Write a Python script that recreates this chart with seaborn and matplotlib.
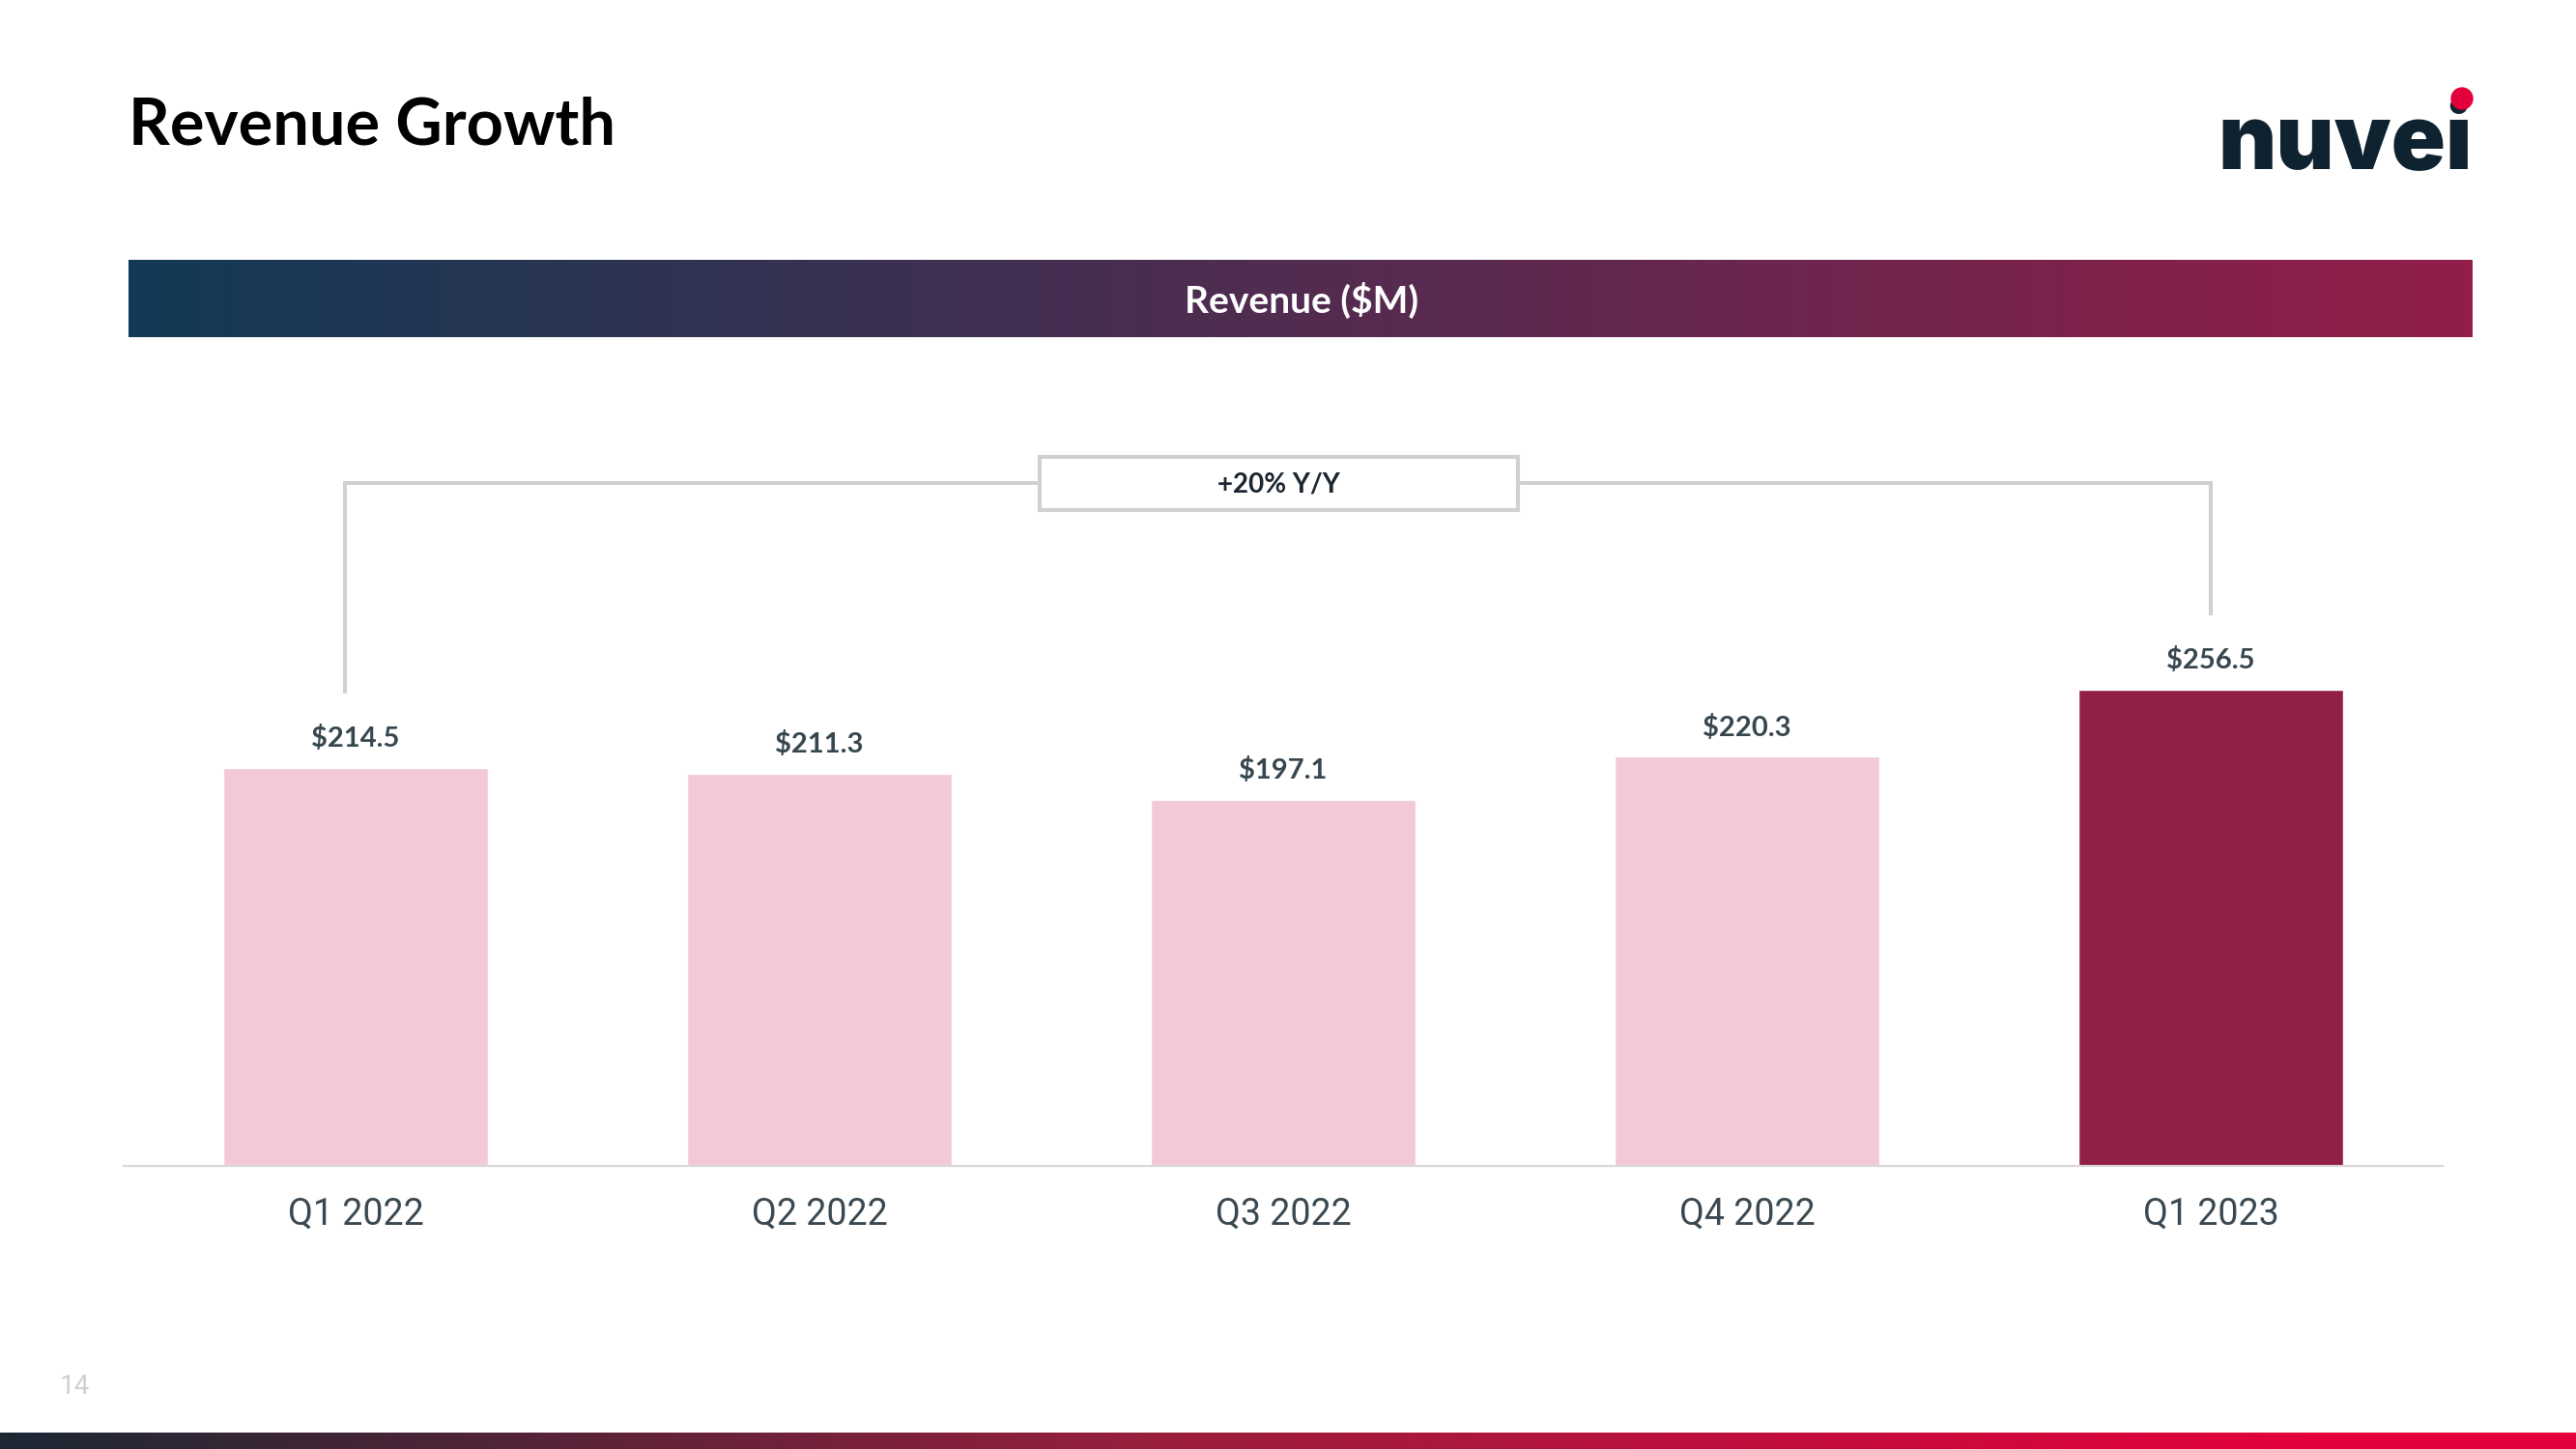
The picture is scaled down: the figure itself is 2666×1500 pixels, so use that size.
import numpy as np
import pandas as pd
import matplotlib
matplotlib.use("Agg")
import matplotlib.pyplot as plt
import seaborn as sns
from matplotlib.colors import LinearSegmentedColormap
from matplotlib.patches import Rectangle, Ellipse

# data
quarters = ["Q1 2022", "Q2 2022", "Q3 2022", "Q4 2022", "Q1 2023"]
revenue = [214.5, 211.3, 197.1, 220.3, 256.5]
bar_colors = ["#f3c9d6", "#f3c9d6", "#f3c9d6", "#f3c9d6", "#921f47"]
growth_label = "+20% Y/Y"

W, H = 2666, 1500
sns.set_theme(style="white")
plt.rcParams["font.family"] = ["Lato", "DejaVu Sans"]

fig = plt.figure(figsize=(W / 100, H / 100), dpi=100)
fig.patch.set_facecolor("white")

# header gradient band
band = fig.add_axes([133 / W, 1 - 349 / H, (2558 - 133) / W, 80 / H])
band_cmap = LinearSegmentedColormap.from_list("band", ["#123a56", "#921e4a"])
band.imshow(np.linspace(0, 1, 512)[None, :], aspect="auto", cmap=band_cmap)
band.axis("off")
fig.text(1347 / W, 1 - 311 / H, "Revenue ($M)", ha="center", va="center",
         fontsize=28, fontweight="bold", color="white")

# bottom strip
strip = fig.add_axes([0, 0, 1, 17 / H])
strip_cmap = LinearSegmentedColormap.from_list(
    "strip", [(0, "#1c2834"), (0.45, "#9a1f3d"), (0.9, "#e4003b"), (1, "#e4003b")])
strip.imshow(np.linspace(0, 1, 512)[None, :], aspect="auto", cmap=strip_cmap)
strip.axis("off")

# title, logo, page number
fig.text(133 / W, 1 - 150 / H, "Revenue Growth", ha="left", va="baseline",
         fontsize=48, fontweight="bold", color="black")
fig.text(2559 / W, 1 - 175 / H, "nuvei", ha="right", va="baseline",
         fontsize=67, fontweight="black", color="#0e2230",
         family=["Inter", "Lato", "DejaVu Sans"])
fig.add_artist(Ellipse((2548 / W, 1 - 102 / H), 22 / W, 22 / H,
                       transform=fig.transFigure, color="#e4003b", zorder=5))
fig.text(62 / W, 1 - 1443 / H, "14", ha="left", va="baseline",
         fontsize=20, color="#d0d0d0", family=["Roboto", "DejaVu Sans"])

# bar chart
df = pd.DataFrame({"quarter": quarters, "revenue": revenue})
ax = fig.add_axes([128 / W, (H - 1207) / H, 2400 / W, 400 * 1.923 / H])
sns.barplot(data=df, x="quarter", y="revenue", hue="quarter", palette=bar_colors,
            width=0.57, saturation=1, legend=False, ax=ax)
ax.set_xlim(-0.5, 4.5)
ax.set_ylim(0, 400)
ax.set_xlabel("")
ax.set_ylabel("")
ax.set_yticks([])
for s in ["top", "right", "left"]:
    ax.spines[s].set_visible(False)
ax.spines["bottom"].set_color("#d9d9d9")
ax.spines["bottom"].set_linewidth(1.6)
ax.tick_params(axis="x", length=0, pad=23, labelsize=27, labelcolor="#3a4852")
for lbl in ax.get_xticklabels():
    lbl.set_family(["Roboto", "DejaVu Sans"])

for cont in ax.containers:
    ax.bar_label(cont, labels=[f"${v:.1f}" for v in cont.datavalues], padding=12,
                 fontsize=21, fontweight="bold", color="#37474f")

# growth bracket
line_kw = dict(color="#d0d0d0", lw=2.9, clip_on=False, zorder=1,
               solid_capstyle="butt", solid_joinstyle="miter")
bracket_y = 367.5
left_x = 0 - 0.023
ax.plot([left_x, left_x, 4, 4], [revenue[0] + 40, bracket_y, bracket_y, revenue[-1] + 40],
        **line_kw)
ax.add_patch(Rectangle((1.475, 353.1), 1.031, 28.6, facecolor="white",
                       edgecolor="#d0d0d0", lw=2.9, clip_on=False, zorder=2))
ax.text(1.99, bracket_y - 0.5, growth_label, ha="center", va="center", fontsize=20,
        fontweight="bold", color="#1a2530", zorder=3)

fig.savefig("out.png", dpi=100, facecolor="white")
